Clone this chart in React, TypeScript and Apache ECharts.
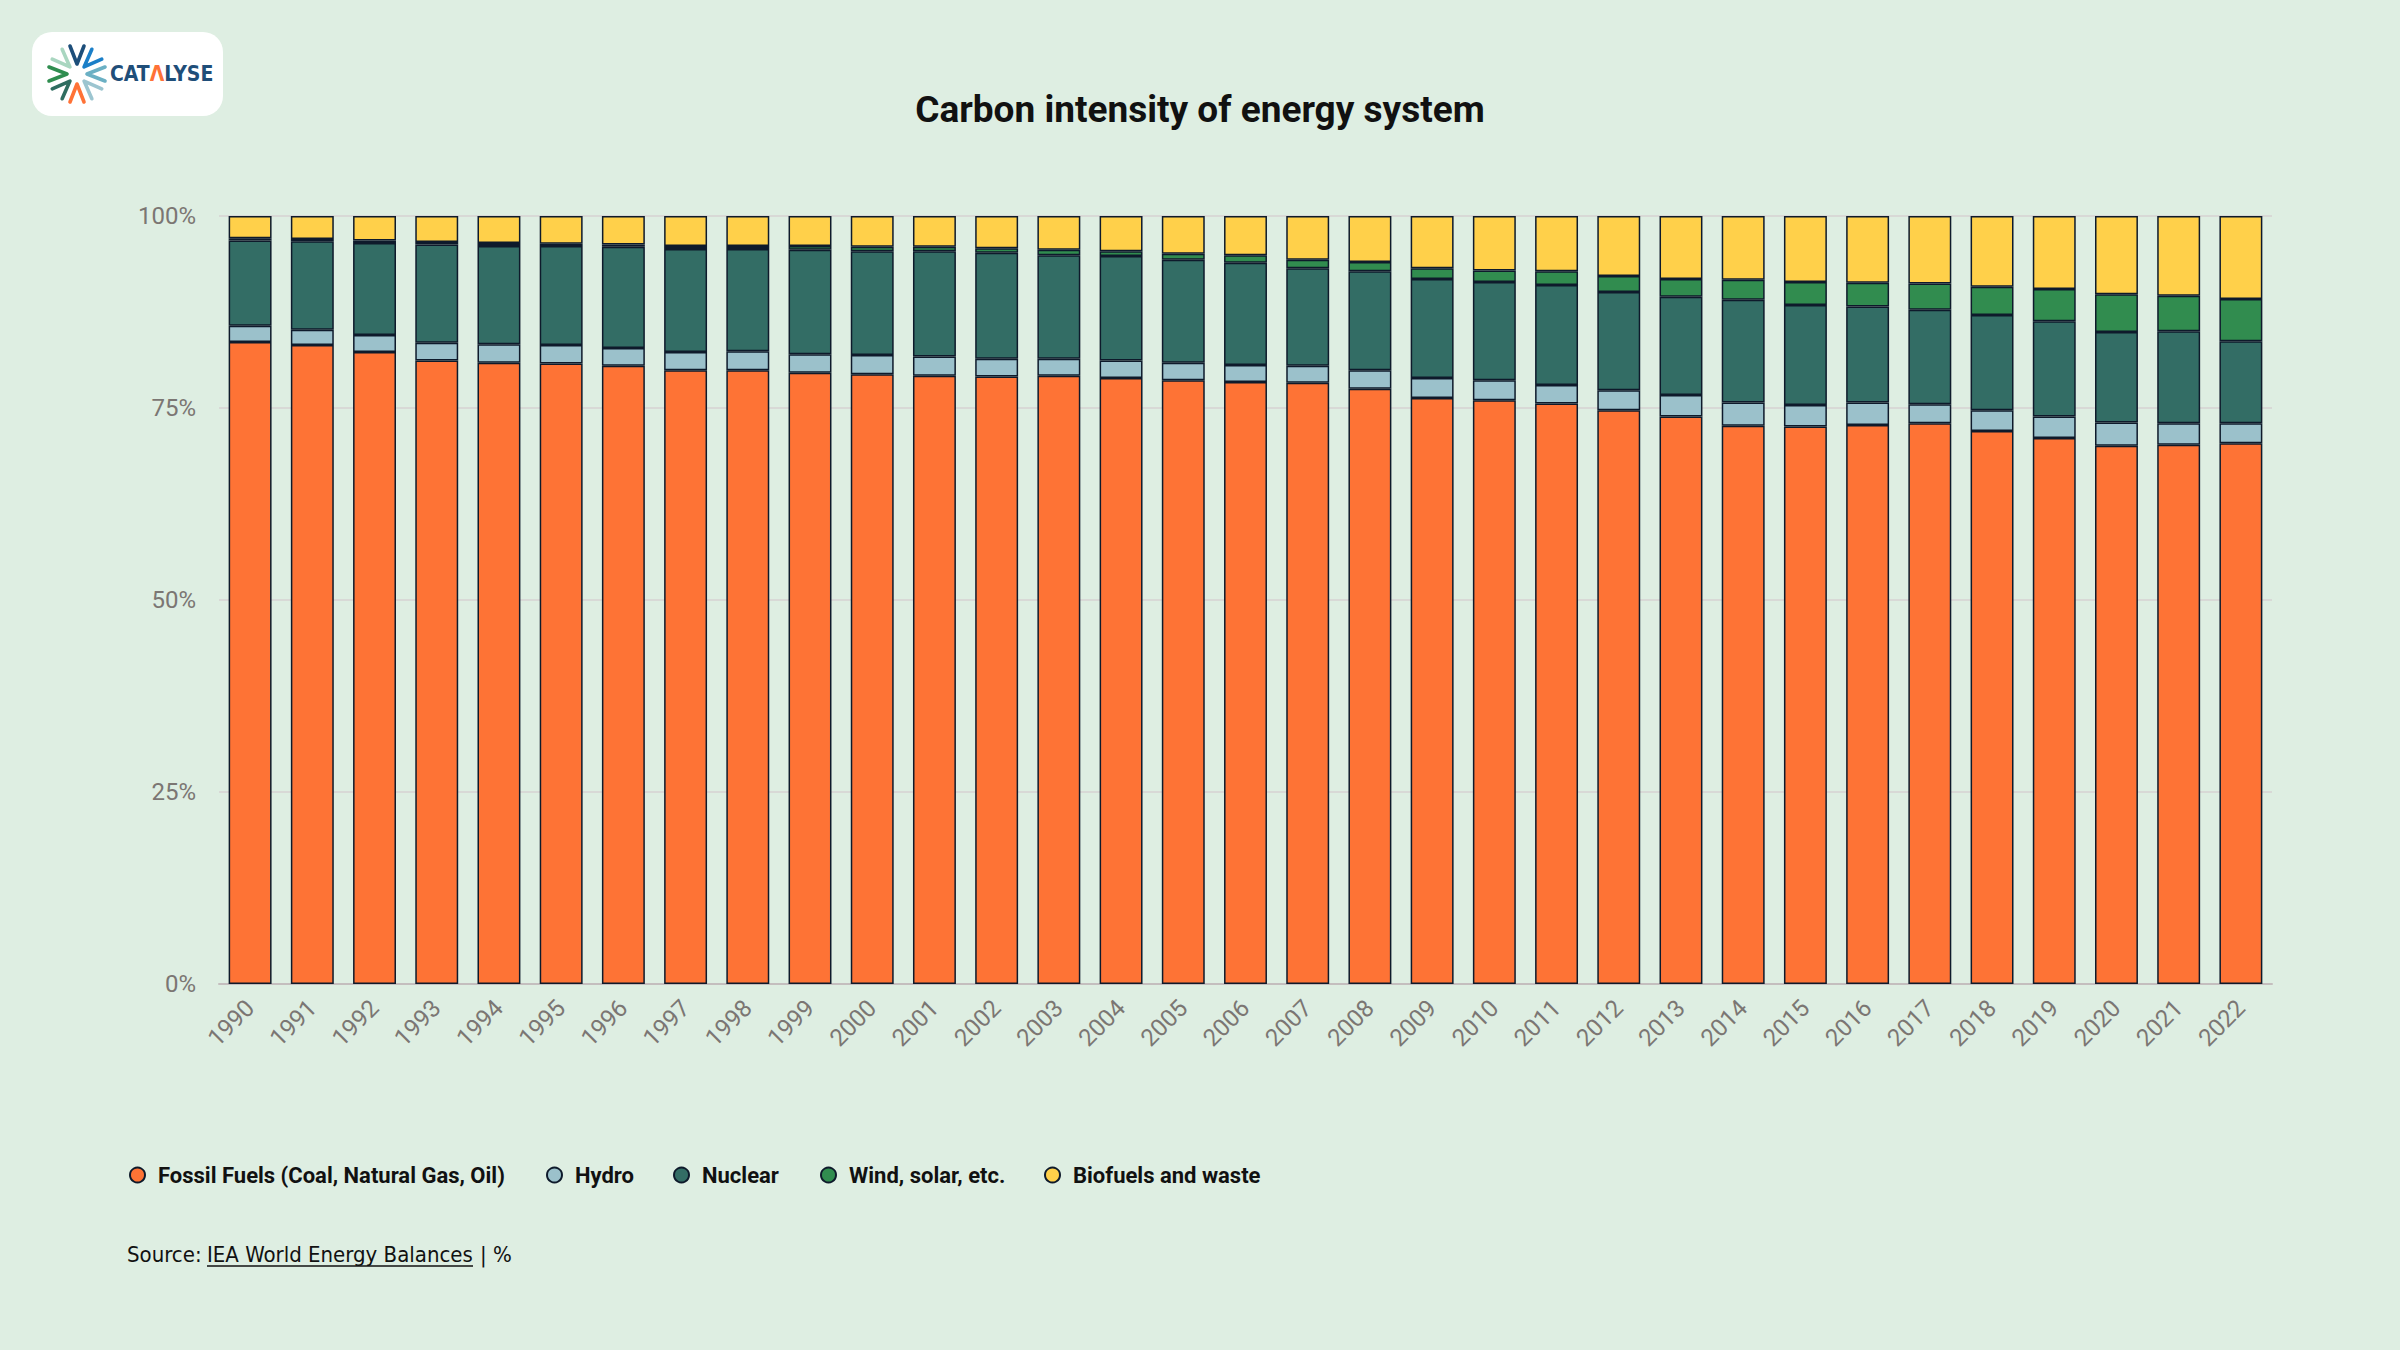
import React, { useEffect, useRef } from "react";
import * as echarts from "echarts";

const years = [
  "1990", "1991", "1992", "1993", "1994", "1995", "1996", "1997", "1998", "1999",
  "2000", "2001", "2002", "2003", "2004", "2005", "2006", "2007", "2008", "2009",
  "2010", "2011", "2012", "2013", "2014", "2015", "2016", "2017", "2018", "2019",
  "2020", "2021", "2022",
];

const fossil = [
  83.6, 83.2, 82.3, 81.2, 80.9, 80.8, 80.5, 79.9, 79.9, 79.6,
  79.4, 79.2, 79.1, 79.2, 78.9, 78.6, 78.4, 78.3, 77.5, 76.3,
  76.0, 75.6, 74.7, 73.9, 72.7, 72.6, 72.8, 73.0, 72.0, 71.1,
  70.1, 70.2, 70.4,
];
const hydro = [
  2.1, 2.0, 2.2, 2.3, 2.4, 2.4, 2.3, 2.4, 2.5, 2.4,
  2.5, 2.5, 2.3, 2.2, 2.3, 2.3, 2.2, 2.2, 2.4, 2.6,
  2.6, 2.4, 2.6, 2.8, 3.0, 2.8, 2.9, 2.5, 2.7, 2.8,
  3.0, 2.8, 2.6,
];
const nuclear = [
  11.1, 11.5, 12.0, 12.8, 12.8, 12.9, 13.2, 13.4, 13.3, 13.6,
  13.5, 13.7, 13.8, 13.5, 13.6, 13.4, 13.3, 12.7, 12.9, 12.9,
  12.8, 13.0, 12.8, 12.8, 13.4, 13.0, 12.5, 12.3, 12.4, 12.4,
  11.8, 12.0, 10.7,
];
const windSolar = [
  0.3, 0.3, 0.3, 0.3, 0.4, 0.3, 0.3, 0.4, 0.4, 0.5,
  0.6, 0.6, 0.6, 0.7, 0.6, 0.8, 1.0, 1.1, 1.2, 1.4,
  1.5, 1.8, 2.1, 2.3, 2.6, 3.0, 3.1, 3.4, 3.7, 4.2,
  4.9, 4.6, 5.5,
];
const biofuels = [
  2.9, 3.0, 3.2, 3.4, 3.5, 3.6, 3.7, 3.9, 3.9, 3.9,
  4.0, 4.0, 4.2, 4.4, 4.6, 4.9, 5.1, 5.7, 6.0, 6.8,
  7.1, 7.2, 7.8, 8.2, 8.3, 8.6, 8.7, 8.8, 9.2, 9.5,
  10.2, 10.4, 10.8,
];

const seriesNames = [
  "Fossil Fuels (Coal, Natural Gas, Oil)",
  "Hydro",
  "Nuclear",
  "Wind, solar, etc.",
  "Biofuels and waste",
];
const seriesColors = ["#fe7335", "#9bc1cb", "#336d65", "#318c4f", "#ffd04a"];
const seriesData = [fossil, hydro, nuclear, windSolar, biofuels];
const legendLefts = [129, 546, 673, 820, 1044];

const titleText = "Carbon intensity of energy system";
const sourcePrefix = "Source: ";
const sourceLink = "IEA World Energy Balances";
const sourceSuffix = "| %";

const BG = "#deeee2";
const INK = "#0e1a2b";
const NARROW = "'Liberation Sans Narrow', 'DejaVu Sans Condensed', Roboto, sans-serif";
const SANS = "Roboto, sans-serif";

function logoGraphic() {
  const cx = 77;
  const cy = 74;
  const arms = [
    { a: 0, c: "#1d4e7a" },
    { a: 45, c: "#1b7fc8" },
    { a: 90, c: "#6bb0c4" },
    { a: 135, c: "#9cc5d0" },
    { a: 180, c: "#ff7236" },
    { a: 225, c: "#2f6d60" },
    { a: 270, c: "#2f8d4f" },
    { a: 315, c: "#a9d6c0" },
  ];
  const children: any[] = [
    {
      type: "rect",
      shape: { x: 32, y: 32, width: 191, height: 84, r: 20 },
      style: { fill: "#ffffff" },
    },
  ];
  arms.forEach(({ a, c }) => {
    const r = (a * Math.PI) / 180;
    const dx = Math.sin(r);
    const dy = -Math.cos(r);
    const px = -dy;
    const py = dx;
    const tip = [cx + dx * 10, cy + dy * 10];
    const e1 = [cx + dx * 28 + px * 7, cy + dy * 28 + py * 7];
    const e2 = [cx + dx * 28 - px * 7, cy + dy * 28 - py * 7];
    children.push({
      type: "polyline",
      shape: { points: [e1, tip, e2] },
      style: { stroke: c, lineWidth: 3.6, lineCap: "round", lineJoin: "round", fill: null },
    });
  });
  children.push({
    type: "text",
    x: 110,
    y: 74,
    style: {
      text: "{a|CAT}{b|Λ}{a|LYSE}",
      verticalAlign: "middle",
      rich: {
        a: { fontSize: 21, fontWeight: "bold", fill: "#1f4e79", fontFamily: NARROW },
        b: { fontSize: 21, fontWeight: "bold", fill: "#ff7236", fontFamily: NARROW },
      },
    },
  });
  return { type: "group", children };
}

export default function App() {
  const ref = useRef<HTMLDivElement>(null);

  useEffect(() => {
    document.body.style.margin = "0";
    document.body.style.background = BG;
    if (!ref.current) return;
    const chart = echarts.init(ref.current, undefined, { renderer: "svg" });

    const option: any = {
      animation: false,
      backgroundColor: BG,
      title: {
        text: titleText,
        left: "center",
        top: 86,
        textStyle: { fontSize: 37, fontWeight: "bold", color: "#111111", fontFamily: SANS },
      },
      grid: {
        left: 219,
        right: 128,
        top: 216,
        bottom: 366,
        containLabel: false,
        outerBoundsMode: "none",
      },
      legend: seriesNames.map((n, i) => ({
        data: [n],
        left: legendLefts[i],
        top: 1164,
        padding: 0,
        icon: "circle",
        itemWidth: 15,
        itemHeight: 15,
        selectedMode: false,
        textStyle: {
          fontSize: 22,
          fontWeight: "bold",
          color: "#111111",
          fontFamily: SANS,
          padding: [0, 0, 0, 8],
        },
      })),
      xAxis: {
        type: "category",
        data: years,
        axisTick: { show: false },
        axisLine: { lineStyle: { color: "#c4bebe", width: 2 } },
        axisLabel: {
          interval: 0,
          rotate: 45,
          fontSize: 24,
          color: "#7b7673",
          margin: 20,
          fontFamily: SANS,
        },
      },
      yAxis: {
        type: "value",
        min: 0,
        max: 100,
        interval: 25,
        axisLine: { show: false },
        axisTick: { show: false },
        axisLabel: {
          formatter: "{value}%",
          fontSize: 24,
          color: "#7b7673",
          margin: 23,
          fontFamily: SANS,
        },
        splitLine: { lineStyle: { color: "#d6d2d2", width: 1.5 } },
      },
      series: seriesNames.map((n, i) => ({
        name: n,
        type: "bar",
        stack: "total",
        barCategoryGap: "31%",
        data: seriesData[i],
        itemStyle: { color: seriesColors[i], borderColor: INK, borderWidth: 1.5 },
        emphasis: { disabled: true },
      })),
      graphic: [
        logoGraphic(),
        {
          type: "text",
          x: 127,
          y: 1254,
          style: { text: sourcePrefix, fontSize: 22, fill: "#111111", fontFamily: NARROW, verticalAlign: "middle" },
        },
        {
          type: "text",
          x: 207,
          y: 1254,
          style: { text: sourceLink, fontSize: 22, fill: "#111111", fontFamily: NARROW, verticalAlign: "middle" },
        },
        {
          type: "line",
          shape: { x1: 207, y1: 1266, x2: 473, y2: 1266 },
          style: { stroke: "#111111", lineWidth: 1.5 },
        },
        {
          type: "text",
          x: 480,
          y: 1254,
          style: { text: sourceSuffix, fontSize: 22, fill: "#111111", fontFamily: NARROW, verticalAlign: "middle" },
        },
      ],
    };

    chart.setOption(option);
    return () => {
      chart.dispose();
    };
  }, []);

  return <div ref={ref} style={{ width: 2400, height: 1350 }} />;
}
